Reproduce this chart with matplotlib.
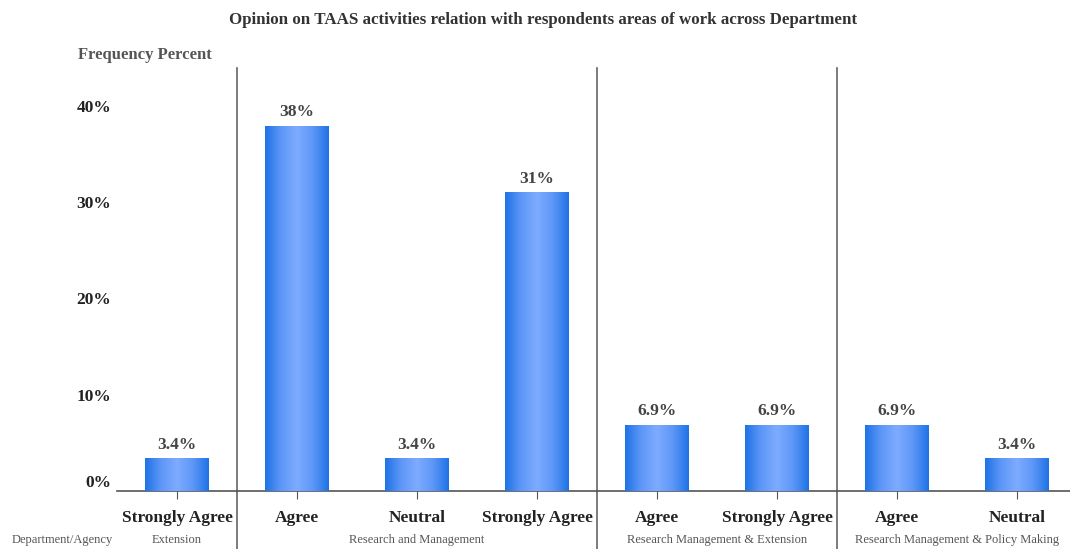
import matplotlib
matplotlib.use("Agg")
import matplotlib.pyplot as plt
import numpy as np
from matplotlib.colors import LinearSegmentedColormap

title = "Opinion on TAAS activities relation with respondents areas of work across Department"
categories = ["Strongly Agree", "Agree", "Neutral", "Strongly Agree",
              "Agree", "Strongly Agree", "Agree", "Neutral"]
values = [3.4, 37.9, 3.4, 31.0, 6.9, 6.9, 6.9, 3.4]
value_labels = ["3.4%", "38%", "3.4%", "31%", "6.9%", "6.9%", "6.9%", "3.4%"]
groups = ["Extension", "Research and Management",
          "Research Management & Extension", "Research Management & Policy Making"]
group_sizes = [1, 3, 2, 2]
yticks = [0, 10, 20, 30, 40]
ytick_labels = ["0%", "10%", "20%", "30%", "40%"]

plt.rcParams['font.family'] = ['Liberation Serif', 'DejaVu Serif']

W, H = 1070, 549
fig = plt.figure(figsize=(W/100, H/100), dpi=100)
ax_left, ax_right, ax_top, ax_bot = 117, 1077, 68, 491
ax = fig.add_axes([ax_left/W, 1-ax_bot/H, (ax_right-ax_left)/W, (ax_bot-ax_top)/H])
ylim = (0, 43.9)
ax.set_xlim(-0.5, 7.5)
ax.set_ylim(*ylim)

x = np.arange(len(values))
bars = ax.bar(x, values, width=0.53, color="#4a8ef0", edgecolor="none", zorder=2)

cmap = LinearSegmentedColormap.from_list("g", ["#1f72e6", "#5d97f7", "#7eabff", "#5d97f7", "#1f72e6"])
grad = np.linspace(0, 1, 256).reshape(1, -1)
for b in bars:
    x0, w, h = b.get_x(), b.get_width(), b.get_height()
    im = ax.imshow(grad, cmap=cmap, aspect="auto", extent=[x0, x0+w, 0, h],
                   zorder=3, interpolation="bicubic")
    im.set_clip_path(b)
ax.set_xlim(-0.5, 7.5)
ax.set_ylim(*ylim)

for xi, v, lab in zip(x, values, value_labels):
    ax.annotate(lab, (xi, v), xytext=(0, 4), textcoords="offset points",
                ha="center", va="bottom", fontsize=12.5, fontweight="bold", color="#444444")

for s in ["top", "right", "left"]:
    ax.spines[s].set_visible(False)
ax.spines["bottom"].set_color("#555555")
ax.spines["bottom"].set_linewidth(1.2)

ax.set_yticks(yticks)
ax.set_yticklabels(ytick_labels, fontsize=12.5, fontweight="bold", color="#222222")
ax.tick_params(axis="y", length=0, pad=4)
ax.get_yticklabels()[0].set_va("bottom")

ax.set_xticks(x)
ax.set_xticklabels(categories, fontsize=12.5, fontweight="bold", color="#222222")
ax.tick_params(axis="x", length=6, color="#555555", pad=8)

# separators between groups
bounds = np.cumsum(group_sizes)[:-1]
for bnd in bounds:
    xb = bnd - 0.5
    ax.plot([xb, xb], [0, 1], transform=ax.get_xaxis_transform(), color="#666666",
            lw=1.2, clip_on=False)
    ax.plot([xb, xb], [0, -0.2], transform=ax.get_xaxis_transform(), color="#666666",
            lw=1.2, clip_on=False)

# group labels
start = 0
for g, n in zip(groups, group_sizes):
    center = start + (n - 1) / 2
    ax.annotate(g, (center, 0), xycoords=("data", "axes fraction"),
                xytext=(0, -49), textcoords="offset pixels",
                ha="center", va="center", fontsize=9, color="#555555")
    start += n

fig.text(62/W, 1-540/H, "Department/Agency", ha="center", va="center",
         fontsize=9, color="#555555")
fig.text(543/W, 1-20/H, title, ha="center", va="center", fontsize=12.2,
         fontweight="bold", color="#333333")
fig.text(78/W, 1-55/H, "Frequency Percent", ha="left", va="center", fontsize=12,
         fontweight="bold", color="#555555")

fig.savefig("out.png", dpi=100)
